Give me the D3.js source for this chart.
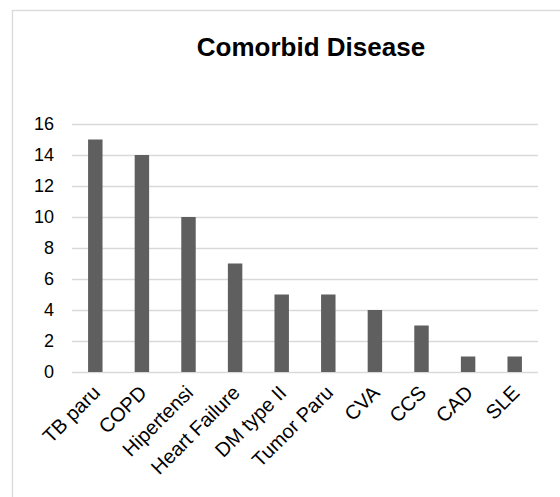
<!DOCTYPE html>
<html>
<head>
<meta charset="utf-8">
<script src="https://cdn.jsdelivr.net/npm/d3@7"></script>
<style>
  body { margin: 0; background: #fff; }
  text { font-family: "Liberation Sans", Arial, sans-serif; }
</style>
</head>
<body>
<div id="vis"></div>
<script>
const categories = ["TB paru", "COPD", "Hipertensi", "Heart Failure", "DM type II",
                    "Tumor Paru", "CVA", "CCS", "CAD", "SLE"];
const counts = [15, 14, 10, 7, 5, 5, 4, 3, 1, 1];
const y_ticks = [0, 2, 4, 6, 8, 10, 12, 14, 16];

const frame_width = 560;
const frame_height = 497;
const margins = {left: 72, right: 22, top: 124, bottom: 125};

const x_scale = d3.scaleBand()
    .domain(categories)
    .range([margins.left, frame_width - margins.right])
    .paddingInner(0.69)
    .paddingOuter(0.345);

const y_scale = d3.scaleLinear()
    .domain([0, 16])
    .range([frame_height - margins.bottom, margins.top]);

const svg = d3.select("#vis")
  .append("svg")
    .attr("width", frame_width)
    .attr("height", frame_height);

// outer chart border (runs off the right and bottom edges)
svg.append("rect")
    .attr("x", 12.5).attr("y", 10.5)
    .attr("width", 600).attr("height", 600)
    .attr("fill", "none")
    .attr("stroke", "#d9d9d9")
    .attr("stroke-width", 1.3);

svg.append("text")
    .attr("x", 311).attr("y", 56)
    .attr("text-anchor", "middle")
    .attr("font-size", "26px")
    .attr("font-weight", "bold")
    .attr("fill", "#000")
    .text("Comorbid Disease");

// gridlines + y labels
svg.append("g")
    .attr("transform", "translate(" + margins.left + ",0)")
    .call(d3.axisLeft(y_scale)
        .tickValues(y_ticks)
        .tickSize(-(frame_width - margins.left - margins.right))
        .tickPadding(18))
    .call(g => g.select(".domain").remove())
    .call(g => g.selectAll(".tick line").attr("stroke", "#d9d9d9").attr("stroke-width", 1.3))
    .call(g => g.selectAll(".tick text")
        .attr("font-size", "18px")
        .attr("fill", "#000")
        .attr("font-family", "'Liberation Sans', Arial, sans-serif"));

svg.selectAll(".bar")
    .data(counts)
    .enter()
    .append("rect")
      .attr("class", "bar")
      .attr("x", (d, i) => x_scale(categories[i]))
      .attr("y", (d) => y_scale(d))
      .attr("width", x_scale.bandwidth())
      .attr("height", (d) => y_scale(0) - y_scale(d))
      .attr("fill", "#5f5f5f");

// x labels
svg.append("g")
    .attr("transform", "translate(0," + y_scale(0) + ")")
    .call(d3.axisBottom(x_scale).tickSize(0).tickPadding(0))
    .call(g => g.select(".domain").remove())
    .call(g => g.selectAll(".tick text")
        .attr("font-size", "20px")
        .attr("fill", "#000")
        .attr("font-family", "'Liberation Sans', Arial, sans-serif")
        .attr("text-anchor", "end")
        .attr("dy", 0)
        .attr("transform", "translate(6,22) rotate(-45)"));
</script>
</body>
</html>
